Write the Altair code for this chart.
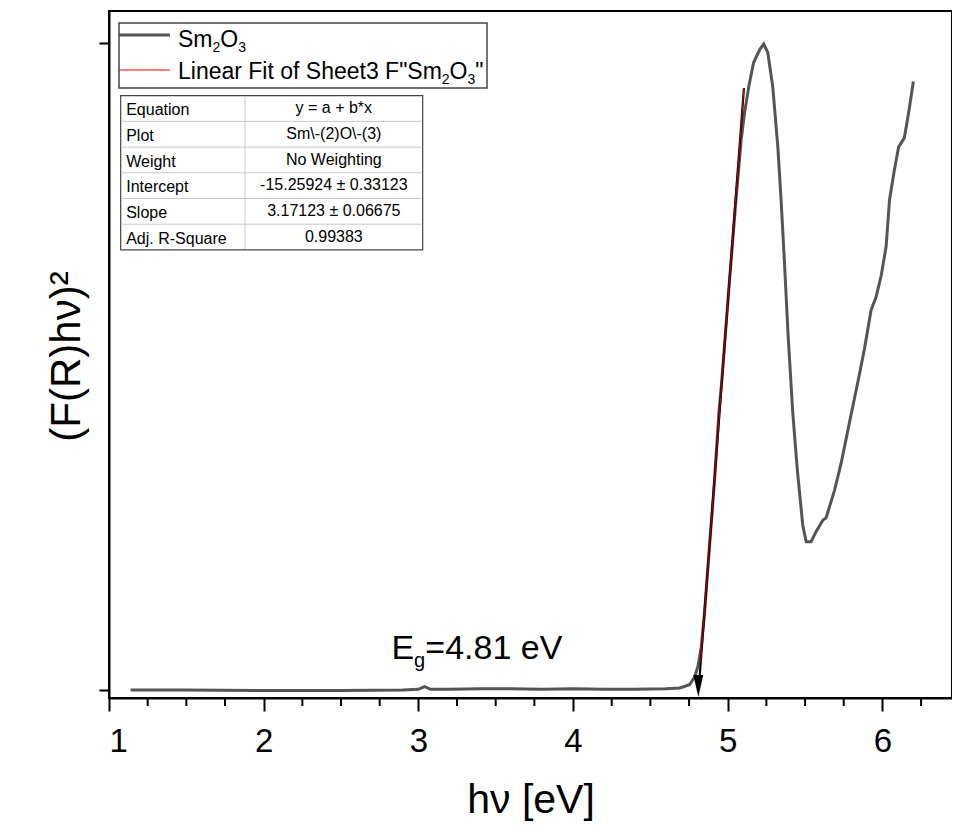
import altair as alt
import pandas as pd

# ---- data ----
hv = [1.14, 1.5, 2.0, 2.5, 2.9, 3.0, 3.04, 3.08, 3.2, 3.4, 3.6, 3.8, 4.0, 4.2, 4.4, 4.6,
      4.69, 4.753, 4.786, 4.807, 4.829, 4.850, 4.882, 4.915, 4.943, 4.962, 5.012, 5.055,
      5.087, 5.109, 5.136, 5.167, 5.206, 5.233, 5.259, 5.291, 5.324, 5.345, 5.367, 5.39,
      5.42, 5.45, 5.485, 5.507, 5.539, 5.572, 5.614, 5.636, 5.690, 5.733, 5.787, 5.851,
      5.884, 5.927, 5.959, 5.992, 6.024, 6.046, 6.078, 6.105, 6.142, 6.170, 6.200]
fr = [0.000, 0.000, -0.001, -0.001, 0.000, 0.001, 0.005, 0.001, 0.001, 0.002, 0.002, 0.001,
      0.002, 0.001, 0.001, 0.002, 0.003, 0.008, 0.020, 0.036, 0.066, 0.119, 0.221, 0.325,
      0.428, 0.479, 0.634, 0.762, 0.850, 0.892, 0.932, 0.969, 0.989, 0.998, 0.985, 0.932,
      0.839, 0.757, 0.660, 0.550, 0.430, 0.340, 0.255, 0.229, 0.229, 0.245, 0.262, 0.266,
      0.308, 0.350, 0.413, 0.487, 0.527, 0.587, 0.607, 0.640, 0.685, 0.757, 0.804, 0.839,
      0.853, 0.892, 0.940]

fit_x = [4.825, 5.105]
fit_y = [0.042, 0.930]
tangent_x = [4.812, 5.105]
tangent_y = [0.000, 0.930]
eg_value = 4.81
eg_label = "=4.81 eV"

x_ticks = [1, 2, 3, 4, 5, 6]
x_minor = [1.25, 1.5, 1.75, 2.25, 2.5, 2.75, 3.25, 3.5, 3.75, 4.25, 4.5, 4.75,
           5.25, 5.5, 5.75, 6.25]
y_ticks = [0, 1]

table_keys = ["Equation", "Plot", "Weight", "Intercept", "Slope", "Adj. R-Square"]
table_vals = ["y = a + b*x", "Sm\\-(2)O\\-(3)", "No Weighting",
              "-15.25924 \u00b1 0.33123", "3.17123 \u00b1 0.06675", "0.99383"]

FONT = "Liberation Sans"
W, H = 843, 687

curve_df = pd.DataFrame({"hv": hv, "fr": fr})
fit_df = pd.DataFrame({"hv": fit_x, "fr": fit_y})
tan_df = pd.DataFrame({"hv": tangent_x, "fr": tangent_y})
one = pd.DataFrame({"k": [0]})

xs = alt.Scale(domain=[1, 6.45], nice=False, zero=False)
ys = alt.Scale(domain=[-0.0124, 1.049], nice=False, zero=False)

x_axis = alt.Axis(values=x_ticks, format="d", labelFontSize=33, labelColor="black",
                  labelPadding=14, tickSize=13, tickWidth=2, tickColor="black",
                  domainColor="black", domainWidth=2, grid=False, title="h\u03bd [eV]",
                  titleFontSize=41, titleFontWeight="normal", titleColor="black",
                  titleY=114, titleBaseline="alphabetic", labelFont=FONT, titleFont=FONT)
y_axis = alt.Axis(values=y_ticks, labels=False, tickSize=10, tickWidth=2, tickColor="black",
                  domainColor="black", domainWidth=2, grid=False,
                  title="(F(R)h\u03bd)\u00b2", titleFontSize=42, titleFontWeight="normal",
                  titleColor="black", titleX=-30, titleY=345, titleAngle=-90,
                  titleAlign="center", titleBaseline="alphabetic", titleFont=FONT)

curve = alt.Chart(curve_df).mark_line(color="#555555", strokeWidth=3).encode(
    x=alt.X("hv:Q", scale=xs, axis=x_axis),
    y=alt.Y("fr:Q", scale=ys, axis=y_axis),
)
tangent = alt.Chart(tan_df).mark_line(color="black", strokeWidth=2.2).encode(
    x=alt.X("hv:Q", scale=xs), y=alt.Y("fr:Q", scale=ys))
fit = alt.Chart(fit_df).mark_line(color="red", strokeWidth=0.8).encode(
    x=alt.X("hv:Q", scale=xs), y=alt.Y("fr:Q", scale=ys))

arrow = alt.Chart(pd.DataFrame({"hv": [eg_value], "fr": [0.006]})).mark_point(
    shape="M-0.45,-1L0.45,-1L0,1Z", filled=True, color="black", opacity=1, size=484
).encode(x=alt.X("hv:Q", scale=xs), y=alt.Y("fr:Q", scale=ys))

minor = alt.Chart(pd.DataFrame({"hv": x_minor})).mark_rule(color="black", strokeWidth=2).encode(
    x=alt.X("hv:Q", scale=xs), y=alt.value(H), y2=alt.value(H + 8))

def txt(text, x, y, size, align="left"):
    return alt.Chart(one).mark_text(text=text, font=FONT, fontSize=size, color="black",
                                    align=align, baseline="alphabetic").encode(
        x=alt.value(x), y=alt.value(y))

def dtxt(text, x, y, size):
    return alt.Chart(pd.DataFrame({"hv": [x], "fr": [y]})).mark_text(
        text=text, font=FONT, fontSize=size, color="black", align="left",
        baseline="alphabetic").encode(x=alt.X("hv:Q", scale=xs), y=alt.Y("fr:Q", scale=ys))

# E_g annotation (placed in data coordinates)
eg_E = dtxt("E", 2.826, 0.048, 34)
eg_g = dtxt("g", 2.972, 0.036, 20)
eg_t = dtxt(eg_label, 3.045, 0.048, 34)

# legend box
leg_box = alt.Chart(one).mark_rect(fill="white", stroke="#444444", strokeWidth=1.5).encode(
    x=alt.value(10), x2=alt.value(378), y=alt.value(12), y2=alt.value(77))
leg_l1 = alt.Chart(one).mark_rule(color="#555555", strokeWidth=3).encode(
    x=alt.value(10), x2=alt.value(61), y=alt.value(24))
leg_l2 = alt.Chart(one).mark_rule(color="red", strokeWidth=1).encode(
    x=alt.value(10), x2=alt.value(61), y=alt.value(59))
leg_texts = [
    txt("Sm", 69, 35.7, 23), txt("2", 103.5, 41, 14), txt("O", 111.3, 35.7, 23),
    txt("3", 129.2, 41, 14),
    txt('Linear Fit of Sheet3 F"Sm', 69, 67.5, 23), txt("2", 332.8, 73, 14),
    txt("O", 340.6, 67.5, 23), txt("3", 358.5, 73, 14), txt('"', 366.3, 67.5, 23),
]

# table
T_L, T_R, T_T, T_D, ROW = 11.7, 313.7, 84.7, 136, 25.7
tab_layers = [alt.Chart(one).mark_rect(fill="white", stroke="#444444", strokeWidth=1.2).encode(
    x=alt.value(T_L), x2=alt.value(T_R), y=alt.value(T_T), y2=alt.value(T_T + 6 * ROW))]
for i in range(1, 6):
    tab_layers.append(alt.Chart(one).mark_rule(color="#c8c8c8", strokeWidth=1).encode(
        x=alt.value(T_L + 1), x2=alt.value(T_R - 1), y=alt.value(T_T + i * ROW)))
tab_layers.append(alt.Chart(one).mark_rule(color="#c8c8c8", strokeWidth=1).encode(
    x=alt.value(T_D), y=alt.value(T_T + 1), y2=alt.value(T_T + 6 * ROW - 1)))
for i, (k, v) in enumerate(zip(table_keys, table_vals)):
    tab_layers.append(txt(k, T_L + 5.5, T_T + i * ROW + 19.5, 16))
    tab_layers.append(txt(v, (T_D + T_R) / 2, T_T + i * ROW + 17.5, 16, align="center"))

chart = alt.layer(
    curve, tangent, fit, arrow, minor, eg_E, eg_g, eg_t,
    leg_box, leg_l1, leg_l2, *leg_texts, *tab_layers
).properties(
    width=W, height=H,
    background="white",
    autosize=alt.AutoSizeParams(type="none"),
    padding={"left": 101, "top": 3, "right": 0, "bottom": 124},
).configure_view(stroke="black", strokeWidth=2)

chart.save("out.html", embed_options={"renderer": "svg", "actions": False})
